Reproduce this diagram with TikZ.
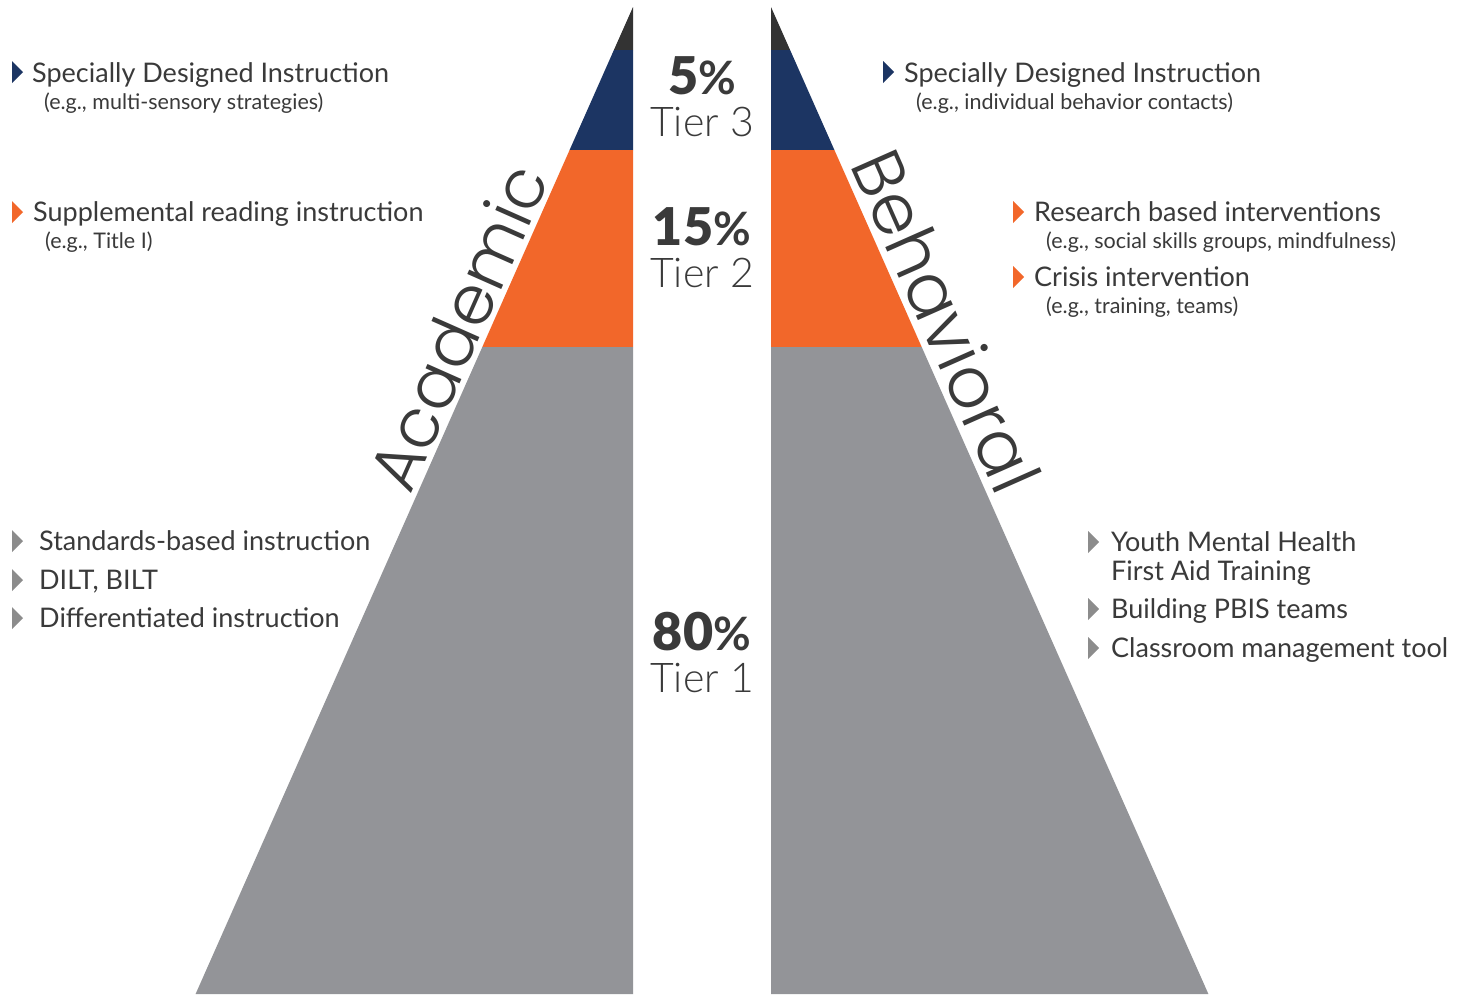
\documentclass[tikz,border=0pt]{standalone}
\usepackage{fontspec}
\setmainfont{Lato}
\IfFontExistsTF{Poppins Light}{\newfontfamily\sidefont{Poppins Light}}{%
  \IfFontExistsTF{Lato Light}{\newfontfamily\sidefont{Lato Light}}{\newfontfamily\sidefont{Lato}}}
\IfFontExistsTF{Lato Light}{\newfontfamily\tierfont{Lato Light}}{\newfontfamily\tierfont{Lato}}
\IfFontExistsTF{Lato Black}{\newfontfamily\pctfont{Lato Black}}{\newcommand\pctfont{\bfseries}}
\definecolor{navyc}{HTML}{1C3563}
\definecolor{orangec}{HTML}{F2672A}
\definecolor{grayc}{HTML}{939498}
\definecolor{darkc}{HTML}{333333}
\definecolor{txtc}{HTML}{3A3A3A}
\definecolor{bulgray}{HTML}{8C8C8C}
\newcommand\mybullet[3]{\fill[#1] (#2,#3-11) -- (#2+11,#3) -- (#2,#3+11) -- cycle;}
\begin{document}
\begin{tikzpicture}[x=1pt,y=-1pt,
  txt/.style={inner sep=0pt, text=txtc, font=\fontsize{27}{32}\selectfont, anchor=base west},
  sub/.style={inner sep=0pt, text=txtc, font=\fontsize{21.5}{25}\selectfont, anchor=base west},
  pct/.style={inner sep=0pt, text=txtc, anchor=base},
  tier/.style={inner sep=0pt, text=txtc, font=\tierfont\fontsize{41}{41}\selectfont, anchor=base},
  side/.style={inner sep=0pt, text=txtc, font=\sidefont\fontsize{70}{70}\selectfont, anchor=base}]
\fill[white] (0,0) rectangle (1465,994);
\path[use as bounding box] (0,0) rectangle (1465,994);
% left pyramid
\fill[darkc] (633,7) -- (613.9,50) -- (633,50) -- cycle;
\fill[navyc] (613.9,50) -- (569.6,150) -- (633,150) -- (633,50) -- cycle;
\fill[orangec] (569.6,150) -- (482.3,347) -- (633,347) -- (633,150) -- cycle;
\fill[grayc] (482.3,347) -- (195.6,994) -- (633,994) -- (633,347) -- cycle;
% right pyramid
\fill[darkc] (771,7) -- (790.1,50) -- (771,50) -- cycle;
\fill[navyc] (790.1,50) -- (834.4,150) -- (771,150) -- (771,50) -- cycle;
\fill[orangec] (834.4,150) -- (921.7,347) -- (771,347) -- (771,150) -- cycle;
\fill[grayc] (921.7,347) -- (1208.4,994) -- (771,994) -- (771,347) -- cycle;
% centre labels
\node[pct] (p3) at (702,94) {{\pctfont\fontsize{52}{52}\selectfont 5}{\fontsize{46}{46}\selectfont\bfseries\%}};
\node[tier] (t3) at (702,136) {Tier 3};
\node[pct] (p2) at (702,245) {{\pctfont\fontsize{52}{52}\selectfont 15}{\fontsize{46}{46}\selectfont\bfseries\%}};
\node[tier] (t2) at (702,287) {Tier 2};
\node[pct] (p1) at (702,650) {{\pctfont\fontsize{52}{52}\selectfont 80}{\fontsize{46}{46}\selectfont\bfseries\%}};
\node[tier] (t1) at (702,692) {Tier 1};
% side titles
\node[side, rotate=66.1, font=\sidefont\fontsize{68}{68}\selectfont] (acad) at (480.5,337) {Academic};
\node[side, rotate=-66.1] (behav) at (923,331) {Behavioral};
% left items
\mybullet{navyc}{12}{72}
\node[txt] (la1) at (32,82) {Specially Designed Instruction};
\node[sub] (la2) at (44,109) {(e.g., multi-sensory strategies)};
\mybullet{orangec}{12}{212}
\node[txt] (lb1) at (33,221) {Supplemental reading instruction};
\node[sub] (lb2) at (45,248) {(e.g., Title I)};
\mybullet{bulgray}{12}{541}
\node[txt] (lc1) at (39,550) {Standards-based instruction};
\mybullet{bulgray}{12}{580}
\node[txt] (lc2) at (39,589) {DILT, BILT};
\mybullet{bulgray}{12}{618}
\node[txt] (lc3) at (39,627) {Differentiated instruction};
% right items
\mybullet{navyc}{883}{72}
\node[txt] (ra1) at (904,82) {Specially Designed Instruction};
\node[sub] (ra2) at (916,109) {(e.g., individual behavior contacts)};
\mybullet{orangec}{1013}{212}
\node[txt] (rb1) at (1034,221) {Research based interventions};
\node[sub] (rb2) at (1046,248) {(e.g., social skills groups, mindfulness)};
\mybullet{orangec}{1013}{277}
\node[txt] (rc1) at (1034,286) {Crisis intervention};
\node[sub] (rc2) at (1046,313) {(e.g., training, teams)};
\mybullet{bulgray}{1088}{542}
\node[txt] (rd1) at (1111,551) {Youth Mental Health};
\node[txt] (rd2) at (1111,580) {First Aid Training};
\mybullet{bulgray}{1088}{609}
\node[txt] (rd3) at (1111,618) {Building PBIS teams};
\mybullet{bulgray}{1088}{648}
\node[txt] (rd4) at (1111,657) {Classroom management tool};
\end{tikzpicture}
\end{document}
